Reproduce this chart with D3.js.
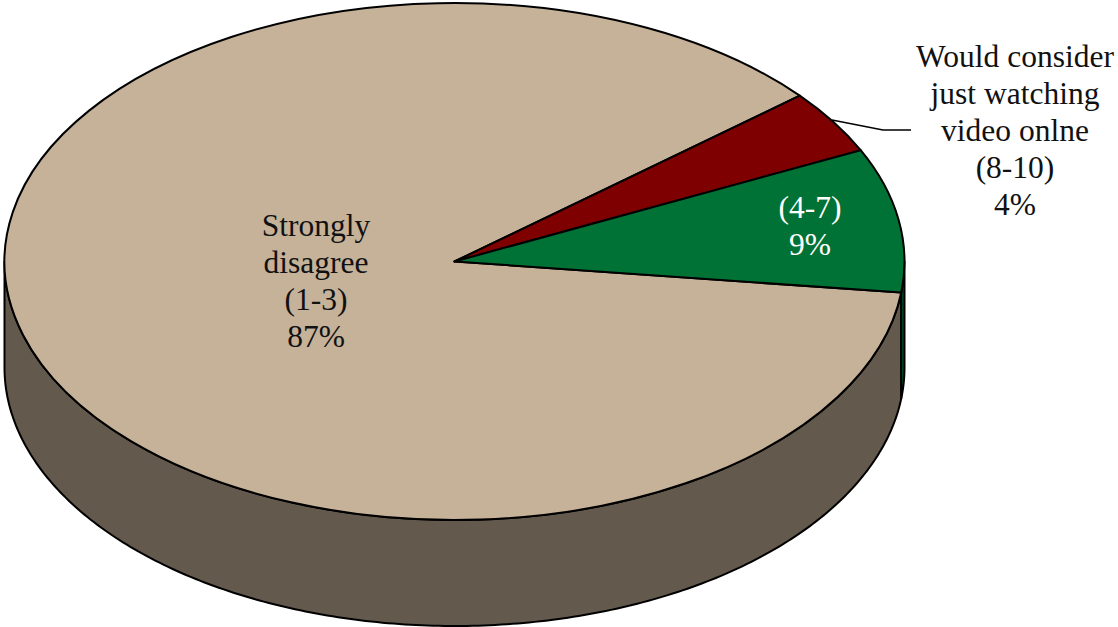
<!DOCTYPE html>
<html>
<head>
<meta charset="utf-8">
<script src="https://cdn.jsdelivr.net/npm/d3@7"></script>
<style>
html, body { margin: 0; padding: 0; background: #fff; overflow: hidden; }
svg { display: block; }
text { font-family: "Liberation Serif", serif; font-size: 31.5px; text-anchor: middle; }
</style>
</head>
<body>
<script>
// Survey answers, in clockwise drawing order
const categories = ["Strongly disagree (1-3)", "Would consider just watching video onlne (8-10)", "(4-7)"];
const values = [87, 4, 9];
const topColors = ["#c6b299", "#7f0000", "#007236"];
const sideColors = ["#63594c", "#4a0000", "#00552a"];
const labelLines = [["Strongly", "disagree", "(1-3)"], ["Would consider", "just watching", "video onlne", "(8-10)"], ["(4-7)"]];
const labelColors = ["#111", "#111", "#fff"];

const width = 1118, height = 627;
const cx = 454.5, cy = 261.5, rx = 450, ry = 258.5, depth = 106;
const startAngle = 96.9 * Math.PI / 180;

const svg = d3.select("body").append("svg").attr("width", width).attr("height", height);

const slices = d3.pie().sort(null).value(d => d)
  .startAngle(startAngle).endAngle(startAngle + 2 * Math.PI)(values);

// Map a pie angle (0 = up, clockwise) onto the tilted ellipse
const px = a => cx + rx * Math.sin(a);
const py = a => cy - ry * Math.cos(a);

// Side wall: only the part of each slice on the front half of the rim shows
const wall = d3.area().x(a => px(a)).y0(a => py(a)).y1(a => py(a) + depth);
const wallG = svg.append("g");
slices.forEach((s, i) => {
  // test the slice's angle range against the front half, one full turn at a time
  [0, 2 * Math.PI].forEach(turn => {
    const from = Math.max(s.startAngle, Math.PI / 2 + turn);
    const to = Math.min(s.endAngle, 3 * Math.PI / 2 + turn);
    if (to <= from) return;
    wallG.append("path")
      .attr("d", wall(d3.range(0, 241).map(k => from + (to - from) * k / 240)))
      .attr("fill", sideColors[i])
      .attr("stroke", "#000")
      .attr("stroke-width", 2)
      .attr("stroke-linejoin", "round");
  });
});

// Top face: a circular pie flattened vertically into an ellipse
const arc = d3.arc().innerRadius(0).outerRadius(rx);
svg.append("g")
  .attr("transform", `translate(${cx},${cy}) scale(1,${ry / rx})`)
  .selectAll("path")
  .data(slices)
  .join("path")
  .attr("d", arc)
  .attr("fill", (d, i) => topColors[i])
  .attr("stroke", "#000")
  .attr("stroke-width", 2)
  .attr("stroke-linejoin", "round")
  .attr("vector-effect", "non-scaling-stroke");

// Leader from the small slice to its label
svg.append("path")
  .attr("d", d3.line()([[832, 120], [883, 130], [911, 130]]))
  .attr("fill", "none")
  .attr("stroke", "#000")
  .attr("stroke-width", 1.5);

// Slice labels: category lines followed by the percentage
const labelPos = [[316, 236], [1015, 67], [810, 218]];
const lineStep = 37;
labelLines.forEach((lines, i) => {
  const t = svg.append("text").attr("fill", labelColors[i]);
  lines.concat(values[i] + "%").forEach((line, j) => {
    t.append("tspan")
      .attr("x", labelPos[i][0])
      .attr("y", labelPos[i][1] + j * lineStep)
      .text(line);
  });
});
</script>
</body>
</html>
